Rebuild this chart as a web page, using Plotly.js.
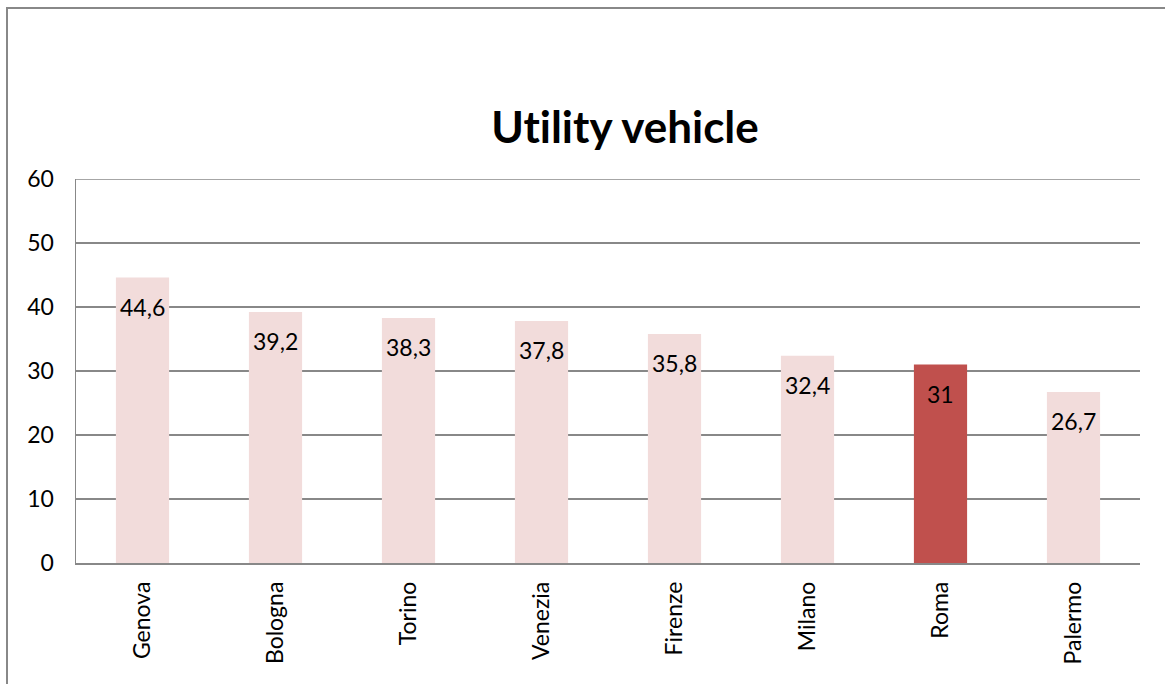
<!DOCTYPE html>
<html>
<head>
<meta charset="utf-8">
<script src="https://cdn.plot.ly/plotly-3.0.1.min.js"></script>
<style>
  html, body { margin: 0; padding: 0; background: #fff; }
  #chart { width: 1165px; height: 684px; }
  #chart text, #chart tspan {
    font-variant-ligatures: none;
    font-feature-settings: "liga" 0, "clig" 0, "calt" 0, "dlig" 0;
  }
</style>
</head>
<body>
<div id="chart"></div>
<script>
// data
const cities = ["Genova", "Bologna", "Torino", "Venezia", "Firenze", "Milano", "Roma", "Palermo"];
const values = [44.6, 39.2, 38.3, 37.8, 35.8, 32.4, 31, 26.7];
const highlight = "Roma";

const barColors = cities.map(c => c === highlight ? '#c0504d' : '#f2dcdb');
const labelText = values.map(v => String(v).replace('.', ','));

const font = "Lato, 'Open Sans', sans-serif";

const trace = {
    x: cities,
    y: values,
    type: 'bar',
    marker: {color: barColors},
    hoverinfo: 'x+y'
};

// value labels sit just under the top of each bar
const labels = cities.map((c, i) => ({
    x: c,
    y: values[i],
    xref: 'x',
    yref: 'y',
    text: labelText[i],
    showarrow: false,
    yanchor: 'middle',
    yshift: -29,
    font: {family: font, size: 23, color: '#000'}
}));

const layout = {
    width: 1165,
    height: 684,
    margin: {l: 76, r: 25, t: 179, b: 121},
    paper_bgcolor: '#fff',
    plot_bgcolor: '#fff',
    showlegend: false,
    bargap: 0.6,
    title: {
        text: '<b>Utility vehicle</b>',
        font: {family: font, size: 44, color: '#000'},
        x: (625 - 76) / 1064,
        xref: 'paper',
        xanchor: 'center',
        y: 1 - 128 / 684,
        yanchor: 'middle'
    },
    xaxis: {
        tickangle: -90,
        tickfont: {family: font, size: 23, color: '#000'},
        ticklabelstandoff: 8,
        showline: true,
        linecolor: '#888',
        linewidth: 1.5,
        ticks: '',
        showgrid: false
    },
    yaxis: {
        range: [0, 60],
        dtick: 10,
        tickfont: {family: font, size: 23, color: '#000'},
        ticklabelstandoff: 16,
        showline: true,
        linecolor: '#888',
        linewidth: 1.5,
        gridcolor: '#888',
        gridwidth: 1.5,
        zeroline: false,
        ticks: ''
    },
    annotations: labels,
    shapes: [{
        // top gridline at 60
        type: 'line',
        xref: 'paper', yref: 'y',
        x0: 0, x1: 1, y0: 60, y1: 60,
        line: {color: '#888', width: 1.5},
        layer: 'below'
    }, {
        // outer chart frame
        type: 'rect',
        xref: 'paper', yref: 'paper',
        x0: -69 / 1064, x1: 1.1,
        y0: -0.5, y1: (563 - 8) / 384,
        line: {color: '#888', width: 2},
        fillcolor: 'rgba(0,0,0,0)',
        layer: 'below'
    }]
};

Plotly.newPlot('chart', [trace], layout, {staticPlot: true});
</script>
</body>
</html>
